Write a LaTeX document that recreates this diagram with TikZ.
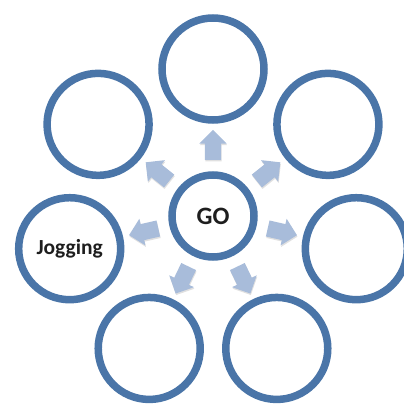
\documentclass[tikz,border=0pt]{standalone}
\usepackage{fontspec}
\setmainfont{Carlito}
\usepackage{tikz}
\usetikzlibrary{shapes,arrows,positioning,calc,shadows}
\usepackage{xcolor}
\definecolor{ringblue}{RGB}{74,117,168}
\definecolor{spokeblue}{RGB}{168,188,218}
\definecolor{labelgray}{RGB}{30,30,30}
\tikzset{
    ring/.style={circle, draw=ringblue, fill=white, line width=7.5pt, minimum size=102pt, inner sep=0pt,
        drop shadow={shadow xshift=0.5pt, shadow yshift=-2pt, opacity=0.15, fill=black}},
    hub/.style={ring, minimum size=82pt, font=\bfseries\fontsize{25}{25}\selectfont, text=labelgray},
    spoke/.style={single arrow, fill=spokeblue, draw=none, minimum height=30pt, minimum width=27pt,
        single arrow head extend=5.5pt, inner xsep=0pt, inner ysep=8pt,
        drop shadow={shadow xshift=0.5pt, shadow yshift=-1.5pt, opacity=0.12, fill=black}},
    ringlabel/.style={font=\bfseries\fontsize{21.5}{21.5}\selectfont, text=labelgray},
}

\begin{document}
\begin{tikzpicture}[x=1pt, y=1pt]
    \useasboundingbox (0,0) rectangle (404,-404);
    % Centre
    \node[hub] (go) at (213,-216) {GO};
    % Outer circles and arrows
    \foreach \i in {0,...,6} {
        \pgfmathsetmacro{\a}{90-\i*360/7}
        \node[ring] (c\i) at ($(go.center)+(\a:147pt)$) {};
        \node[spoke, rotate=\a] (a\i) at ($(go.center)+(\a:67pt)$) {};
    }
    \node[ringlabel] (jog) at (c5) {Jogging};
\end{tikzpicture}
\end{document}
